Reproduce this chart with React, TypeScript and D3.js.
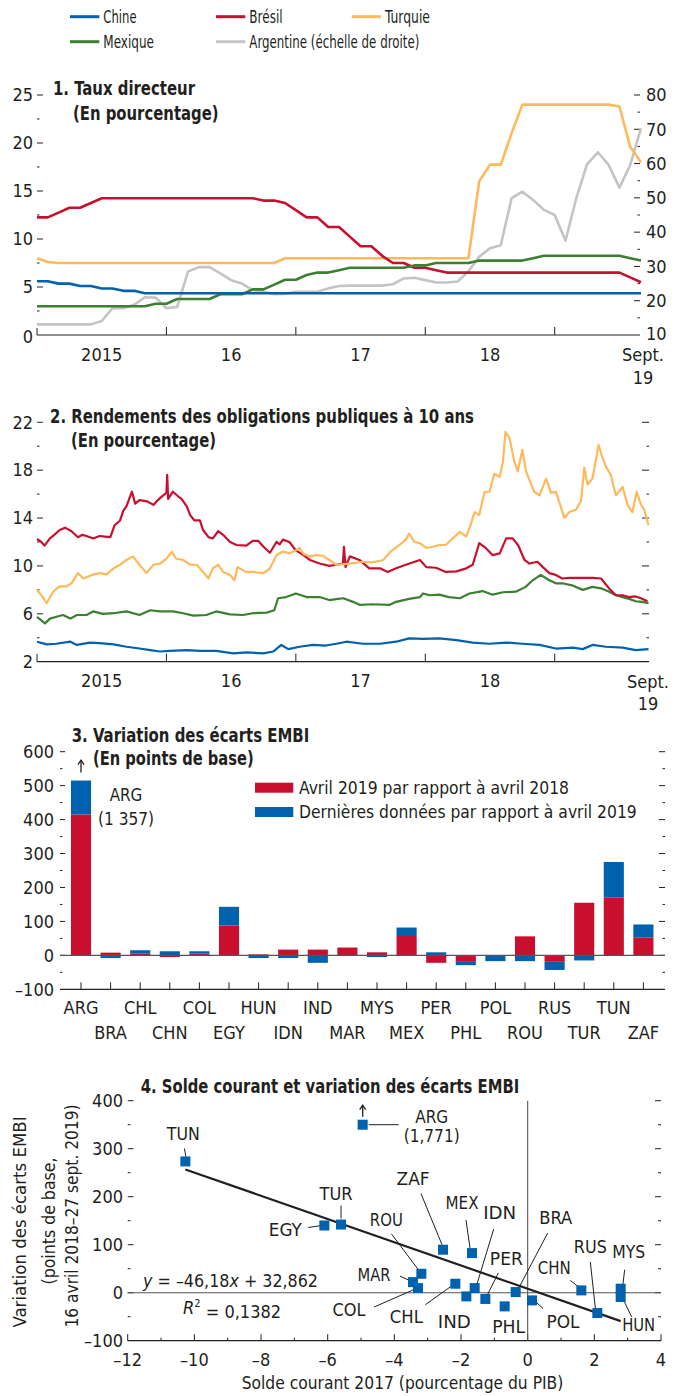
import React from "react";
import * as d3 from "d3";

const FONT = "'Liberation Sans Narrow','Arial Narrow','DejaVu Sans Condensed','Liberation Sans',sans-serif";
const INK = "#231F20";
const COL = { chn: "#0061AE", bra: "#C8102E", tur: "#FDB95C", mex: "#3B7F30", arg: "#C4C4C4" };

// ---------- Panel 1: policy rates, monthly (index 0 = Jan 2015 ... 56 = Sep 2019) ----------
const rateCHN = [
  5.6, 5.6, 5.35, 5.35, 5.1, 5.1, 4.85, 4.85, 4.6, 4.6,
  4.35, 4.35, 4.35, 4.35, 4.35, 4.35, 4.35, 4.35, 4.35, 4.35,
  4.35, 4.35, 4.35, 4.35, 4.35, 4.35, 4.35, 4.35, 4.35, 4.35,
  4.35, 4.35, 4.35, 4.35, 4.35, 4.35, 4.35, 4.35, 4.35, 4.35,
  4.35, 4.35, 4.35, 4.35, 4.35, 4.35, 4.35, 4.35, 4.35, 4.35,
  4.35, 4.35, 4.35, 4.35, 4.35, 4.35, 4.35,
];
const rateBRA = [
  12.25, 12.25, 12.75, 13.25, 13.25, 13.75, 14.25, 14.25, 14.25, 14.25,
  14.25, 14.25, 14.25, 14.25, 14.25, 14.25, 14.25, 14.25, 14.25, 14.25,
  14.25, 14.0, 14.0, 13.75, 13.0, 12.25, 12.25, 11.25, 11.25, 10.25,
  9.25, 9.25, 8.25, 7.5, 7.5, 7.0, 7.0, 6.75, 6.5, 6.5,
  6.5, 6.5, 6.5, 6.5, 6.5, 6.5, 6.5, 6.5, 6.5, 6.5,
  6.5, 6.5, 6.5, 6.5, 6.5, 6.0, 5.5,
];
const rateTUR = [
  8.0, 7.6, 7.5, 7.5, 7.5, 7.5, 7.5, 7.5, 7.5, 7.5,
  7.5, 7.5, 7.5, 7.5, 7.5, 7.5, 7.5, 7.5, 7.5, 7.5,
  7.5, 7.5, 7.5, 8.0, 8.0, 8.0, 8.0, 8.0, 8.0, 8.0,
  8.0, 8.0, 8.0, 8.0, 8.0, 8.0, 8.0, 8.0, 8.0, 8.0,
  8.0, 16.0, 17.75, 17.75, 21.0, 24.0, 24.0, 24.0, 24.0, 24.0,
  24.0, 24.0, 24.0, 24.0, 23.8, 19.6, 18.0,
];
const rateMEX = [
  3.0, 3.0, 3.0, 3.0, 3.0, 3.0, 3.0, 3.0, 3.0, 3.0,
  3.0, 3.25, 3.25, 3.75, 3.75, 3.75, 3.75, 4.25, 4.25, 4.25,
  4.75, 4.75, 5.25, 5.75, 5.75, 6.25, 6.5, 6.5, 6.75, 7.0,
  7.0, 7.0, 7.0, 7.0, 7.0, 7.25, 7.25, 7.5, 7.5, 7.5,
  7.5, 7.75, 7.75, 7.75, 7.75, 7.75, 8.0, 8.25, 8.25, 8.25,
  8.25, 8.25, 8.25, 8.25, 8.25, 8.0, 7.75,
];
// right-hand scale
const rateARG = [
  13.1, 13.1, 13.1, 13.1, 13.1, 13.1, 14.1, 17.8, 17.8, 18.8,
  21.0, 20.9, 17.8, 18.2, 28.5, 29.8, 29.8, 28.0, 26.0, 25.0,
  23.1, 22.6, 21.9, 22.0, 22.6, 22.6, 22.6, 23.6, 24.3, 24.4,
  24.4, 24.4, 24.4, 24.8, 26.5, 26.7, 26.0, 25.3, 25.3, 25.6,
  28.5, 32.8, 35.3, 36.2, 49.9, 51.8, 49.4, 46.5, 45.0, 37.5,
  49.9, 59.8, 63.3, 59.6, 53.0, 59.6, 70.3,
];

// ---------- Panel 2: 10-year yields, [months since Jan 2015, percent] ----------
const bondBRA: [number, number][] = [
  [0, 12.25], [0.4, 12.0], [0.7, 11.7], [1.2, 12.3], [1.6, 12.6], [2.1, 13.0], [2.6, 13.2], [3.2, 12.9], [3.8, 12.4], [4.2, 12.6], [4.6, 12.5],
  [5.2, 12.3], [5.8, 12.5], [6.3, 12.45], [6.8, 12.4], [7.2, 13.4], [7.7, 13.8], [8.0, 14.6], [8.3, 15.0], [8.8, 16.2], [9.1, 15.2],
  [9.5, 15.5], [10.2, 15.4], [10.8, 15.1], [11.2, 15.5], [11.7, 15.9], [12.0, 16.1], [12.07, 17.6], [12.16, 15.6],
  [12.6, 16.2], [13.1, 15.8], [13.4, 15.6], [13.9, 14.95], [14.2, 14.25], [14.6, 13.8], [15.1, 13.8], [15.4, 13.0],
  [15.9, 12.4], [16.3, 12.3], [16.8, 12.9], [17.25, 12.6], [17.9, 12.0], [18.5, 11.75], [19.4, 11.7], [20.0, 12.1],
  [20.5, 12.1], [21.0, 11.6], [21.6, 11.1], [22.2, 12.0], [22.5, 11.8], [22.8, 12.2], [23.4, 12.0], [24.0, 11.3], [24.7, 10.9],
  [25.3, 10.5], [26.2, 10.2], [27.1, 10.0], [27.75, 10.1], [28.36, 10.2], [28.46, 11.6], [28.61, 9.9], [29.0, 10.8],
  [29.9, 10.5], [30.8, 9.8], [31.8, 9.8], [32.5, 9.5], [33.3, 9.8], [34.2, 10.1], [35.5, 10.5], [36.1, 9.9],
  [37.0, 9.85], [37.9, 9.5], [38.9, 9.55], [39.8, 9.8], [40.4, 10.1], [41.0, 11.9], [41.6, 11.5], [42.25, 10.9],
  [42.9, 11.05], [43.5, 12.3], [44.1, 12.3], [44.6, 11.75], [45.2, 10.5], [45.65, 10.2], [46.4, 10.35], [46.9, 9.9],
  [47.5, 9.4], [48.1, 9.25], [48.7, 8.95], [49.35, 9.0], [50.6, 9.0], [51.5, 9.0], [52.3, 8.95], [53.06, 8.1],
  [53.67, 7.55], [54.3, 7.55], [54.9, 7.4], [55.5, 7.45], [56.0, 7.3], [56.6, 7.05],
];
const bondTUR: [number, number][] = [
  [0, 8.0], [0.6, 7.3], [0.9, 6.9], [1.5, 7.85], [2.1, 8.3], [2.75, 8.3], [3.2, 8.55], [3.8, 9.4],
  [4.3, 8.95], [5.1, 9.25], [5.8, 9.4], [6.45, 9.3], [7.1, 9.8], [7.7, 10.1], [8.3, 10.5], [8.9, 10.8],
  [9.5, 10.1], [10.15, 9.4], [10.8, 10.1], [11.4, 10.2], [12.0, 10.6], [12.5, 11.2], [12.9, 10.6], [13.55, 10.5],
  [14.2, 10.1], [14.8, 10.1], [15.4, 9.5], [15.9, 8.95], [16.3, 9.8], [16.8, 10.1], [17.25, 9.5], [17.9, 9.25],
  [18.3, 8.8], [18.6, 9.9], [19.4, 9.5], [20.0, 9.5], [21.0, 9.4], [21.6, 9.8], [22.2, 10.9], [22.8, 11.2],
  [23.4, 11.05], [24.0, 11.3], [24.35, 11.5], [24.7, 11.0], [25.3, 10.8], [25.9, 10.9], [26.5, 10.85], [27.1, 10.5],
  [27.75, 10.1], [29.0, 10.2], [30.2, 10.35], [31.1, 10.3], [32.1, 10.5], [32.8, 11.2], [33.6, 11.75], [34.2, 12.2],
  [34.5, 12.7], [35.0, 12.0], [35.5, 11.9], [36.1, 11.5], [36.7, 11.6], [37.3, 11.75], [37.9, 11.75], [38.55, 12.3],
  [39.2, 12.85], [39.8, 12.45], [40.25, 13.55], [40.56, 14.5], [41.0, 14.25], [41.5, 16.2], [41.95, 16.2], [42.4, 17.7],
  [42.9, 17.45], [43.2, 18.7], [43.43, 21.2], [43.8, 20.7], [44.26, 18.7], [44.57, 17.9], [45.0, 19.7], [45.34, 17.9],
  [45.65, 17.2], [46.1, 16.2], [46.6, 15.9], [47.2, 17.3], [47.65, 16.1], [48.1, 16.2], [48.4, 15.4], [48.9, 14.0],
  [49.35, 14.5], [49.97, 14.7], [50.43, 15.4], [50.74, 18.2], [51.05, 16.8], [51.5, 17.3], [52.07, 20.1], [52.44, 19.0],
  [52.75, 18.3], [53.2, 17.6], [53.67, 15.9], [54.3, 16.6], [54.75, 15.1], [55.2, 14.5], [55.6, 16.2], [56.0, 15.1],
  [56.3, 14.7], [56.7, 13.4],
];
const bondMEX: [number, number][] = [
  [0, 5.75], [0.74, 5.2], [1.2, 5.6], [1.8, 5.75], [2.4, 5.9], [3.1, 5.6], [3.7, 5.9], [4.6, 5.9],
  [5.2, 6.2], [6.1, 6.0], [7.1, 6.05], [8.3, 6.2], [9.5, 5.9], [10.5, 6.3], [11.4, 6.2], [12.6, 6.2],
  [13.55, 6.05], [14.5, 5.85], [15.7, 5.9], [16.6, 6.2], [17.9, 5.95], [19.1, 5.9], [20.0, 6.05], [21.3, 6.1],
  [22.0, 6.3], [22.35, 7.3], [23.1, 7.4], [24.0, 7.7], [25.0, 7.4], [26.2, 7.4], [27.1, 7.15], [27.9, 7.25],
  [28.4, 7.3], [29.3, 7.0], [29.9, 6.75], [31.1, 6.8], [32.7, 6.75], [33.3, 7.0], [34.5, 7.25], [35.5, 7.4],
  [35.8, 7.7], [36.4, 7.55], [37.3, 7.6], [38.2, 7.4], [39.2, 7.3], [40.1, 7.7], [41.3, 7.9], [42.25, 7.6],
  [43.2, 7.8], [44.4, 7.85], [45.3, 8.25], [45.96, 8.8], [46.7, 9.25], [47.5, 8.8], [48.1, 8.55], [48.7, 8.55],
  [49.7, 8.35], [50.6, 8.0], [51.5, 8.25], [52.4, 8.1], [53.06, 7.85], [53.67, 7.55], [54.3, 7.4], [54.9, 7.25],
  [55.5, 7.05], [56.1, 7.0], [56.7, 6.9],
];
const bondCHN: [number, number][] = [
  [0, 3.67], [0.9, 3.45], [1.8, 3.5], [3.1, 3.67], [3.7, 3.4], [4.9, 3.6], [5.8, 3.55], [7.1, 3.45],
  [8.3, 3.25], [9.5, 3.1], [10.5, 2.97], [11.4, 2.85], [12.3, 2.9], [13.9, 2.97], [15.1, 2.9], [16.6, 2.9],
  [18.2, 2.7], [19.4, 2.78], [21.0, 2.7], [21.9, 2.85], [22.65, 3.4], [23.3, 3.05], [24.35, 3.25], [25.6, 3.4],
  [26.8, 3.35], [27.75, 3.5], [28.7, 3.67], [30.2, 3.5], [31.8, 3.5], [33.3, 3.67], [34.5, 3.95], [35.8, 3.9],
  [37.3, 3.95], [38.9, 3.8], [40.4, 3.6], [41.95, 3.5], [43.5, 3.6], [45.0, 3.5], [46.6, 3.4], [48.1, 3.1],
  [49.7, 3.17], [50.6, 3.05], [51.5, 3.4], [52.75, 3.25], [54.3, 3.17], [55.5, 2.97], [56.7, 3.05],
];

const yearTicks = [12, 24, 36, 48];
const yearLabels: [number, string][] = [[6, "2015"], [18, "16"], [30, "17"], [42, "18"]];

// ---------- Panel 3: EMBI spread changes (basis points) ----------
const embiCodes = ["ARG", "BRA", "CHL", "CHN", "COL", "EGY", "HUN", "IDN", "IND", "MAR",
  "MYS", "MEX", "PER", "PHL", "POL", "ROU", "RUS", "TUR", "TUN", "ZAF"];
const embiApr = [415, 8, 5, -5, 5, 88, 3, 17, 17, 23, 9, 57, -22, -17, 0, 56, -19, 155, 170, 53];
const embiLatest = [942, -8, 10, 12, 7, 55, -8, -8, -22, 0, -5, 25, 9, -12, -17, -17, -24, -15, 105, 38];
const embiCap = 515; // ARG bar truncated on the chart

// ---------- Panel 4: current account vs spread change ----------
const scCodes = ["TUN", "EGY", "TUR", "ARG", "ZAF", "MEX", "ROU", "MAR", "COL", "CHL",
  "IDN", "IND", "PER", "PHL", "BRA", "POL", "CHN", "RUS", "MYS", "HUN"];
const scCA = [-10.27, -6.1, -5.6, -4.95, -2.54, -1.67, -3.19, -3.44, -3.29, -2.17,
  -1.59, -1.84, -1.27, -0.69, -0.36, 0.13, 1.61, 2.09, 2.79, 2.79];
const scSpread = [273.5, 140, 142, 1771, 89.6, 82.5, 39.5, 22, 9.6, 18.7,
  9.6, -7.7, -13, -28.5, 1.3, -16, 4.8, -42.4, 8.3, -9];
const scCap = 350; // ARG point truncated
const fitSlope = -24.2;
const fitIntercept = 8.3;

// label layout: [dx, dy] of label centre, optional leader [x1,y1,x2,y2] relative to point
const scLayout: Record<string, { l: [number, number]; k?: [number, number, number, number] }> = {
  TUN: { l: [-2, -28], k: [-1, -13, 0.5, -5] },
  EGY: { l: [-39, 4.5], k: [-16, 2, -3, 0] },
  TUR: { l: [-5, -31], k: [0, -19, 0, -6] },
  ARG: { l: [69, -8], k: [6, 0, 36, 0] },
  ZAF: { l: [-30, -71], k: [-22, -56, -1, -5] },
  MEX: { l: [-10, -50], k: [-6, -33, -2, -5] },
  ROU: { l: [-35, -54], k: [-30, -40, -3, -4] },
  MAR: { l: [-39, -7], k: [-13, -6, -2, -1] },
  COL: { l: [-69, 22], k: [-44, 19, -3, 1] },
  CHL: { l: [-49, 33], k: [-30, 21, -2, 1] },
  IDN: { l: [25, -75], k: [19, -59, 2, -3] },
  IND: { l: [-12, 25] },
  PER: { l: [21, -40], k: [13, -26, 1, -2] },
  PHL: { l: [4, 20] },
  BRA: { l: [40, -74], k: [32, -59, 2, -2] },
  POL: { l: [31, 21], k: [11, 8, 2, 0] },
  CHN: { l: [-27, -23], k: [-11, -10, -1, -2] },
  RUS: { l: [-7, -66], k: [-7, -51, -2, -5] },
  MYS: { l: [8, -37], k: [4, -19, 2, -2] },
  HUN: { l: [18, 28], k: [11, 20, 2, 1] },
};

function Txt(p: any) {
  const { x, y, size = 18, anchor = "start", weight = "normal", w, children, ...rest } = p;
  const fit = w ? { textLength: w, lengthAdjust: "spacingAndGlyphs" } : {};
  return (
    <text x={x} y={y} dy="0.35em" fontFamily={FONT} fontSize={size} textAnchor={anchor}
      fontWeight={weight} fill={INK} {...fit} {...rest}>{children}</text>
  );
}

export default function App() {
  // panel 1 & 2 shared time scale
  const xT = d3.scaleLinear().domain([0, 56]).range([37, 641]);
  const y1L = d3.scaleLinear().domain([0, 25]).range([335, 95]);
  const y1R = d3.scaleLinear().domain([10, 80]).range([335, 95]);
  const y2 = d3.scaleLinear().domain([2, 22]).range([661.7, 422.3]);

  const lineL = d3.line<number>().x((_, i) => xT(i)).y((d) => y1L(d));
  const lineR = d3.line<number>().x((_, i) => xT(i)).y((d) => y1R(d));
  const line2 = d3.line<[number, number]>().x((d) => xT(d[0])).y((d) => y2(d[1]));

  // panel 3
  const x3 = d3.scaleBand<string>().domain(embiCodes).range([66.2, 658.2]).paddingInner(0.32).paddingOuter(0.16);
  const y3 = d3.scaleLinear().domain([-100, 600]).range([989.3, 751.7]);
  const stackRows = embiCodes.map((c, i) => ({ code: c, apr: embiApr[i], latest: embiLatest[i] }));
  const stacked = d3.stack<any>().keys(["apr", "latest"]).offset(d3.stackOffsetDiverging)(stackRows);
  const barColors = [COL.bra, COL.chn];

  // panel 4
  const x4 = d3.scaleLinear().domain([-12, 4]).range([127.7, 661]);
  const y4 = d3.scaleLinear().domain([-100, 400]).range([1340.7, 1100.7]);
  const fitX = d3.extent(scCA) as [number, number];

  const legend = [
    { label: "Chine", c: COL.chn, x: 70, y: 16.7, w: 33.3 },
    { label: "Brésil", c: COL.bra, x: 216, y: 16.7, w: 33.3 },
    { label: "Turquie", c: COL.tur, x: 351.7, y: 16.7, w: 45 },
    { label: "Mexique", c: COL.mex, x: 70, y: 41.7, w: 50.7 },
    { label: "Argentine (échelle de droite)", c: COL.arg, x: 216, y: 41.7, w: 170 },
  ];

  const p1Left = d3.range(0, 26, 5);
  const p1LeftMinor = d3.range(2.5, 25, 5);
  const p1Right = d3.range(10, 81, 10);
  const p1RightMinor = d3.range(15, 80, 10);
  const p2Major = d3.range(2, 23, 4);
  const p2Minor = d3.range(4, 21, 4);
  const p3Major = d3.range(-100, 601, 100);
  const p3Minor = d3.range(-50, 600, 100);
  const p4Major = d3.range(-100, 401, 100);
  const p4Minor = d3.range(-50, 400, 100);
  const p4X = d3.range(-12, 5, 2);
  const p4XMinor = d3.range(-11, 4, 2);
  const dash = (v: number) => (v < 0 ? "\u2013" + Math.abs(v) : String(v));

  return (
    <svg width={682} height={1396} style={{ position: "absolute", left: 0, top: 0, background: "#fff" }}>
      <rect x={0} y={0} width={682} height={1396} fill="#fff" />
      {/* legend */}
      {legend.map((l) => (
        <g key={l.label}>
          <line x1={l.x} x2={l.x + 29.3} y1={l.y} y2={l.y} stroke={l.c} strokeWidth={3} />
          <Txt x={l.x + 33.3} y={l.y} size={17.5} w={l.w}>{l.label}</Txt>
        </g>
      ))}

      {/* ---------- Panel 1 ---------- */}
      <Txt x={53} y={88} size={19.5} weight="bold" w={142}>1. Taux directeur</Txt>
      <Txt x={73} y={112.7} size={19.5} weight="bold" w={145.5}>(En pourcentage)</Txt>
      {p1Left.map((v) => (
        <g key={"p1l" + v}>
          {v > 0 && <line x1={37} x2={43} y1={y1L(v)} y2={y1L(v)} stroke={INK} />}
          <Txt x={33} y={y1L(v) + (v === 0 ? 1.5 : 0)} anchor="end">{v}</Txt>
        </g>
      ))}
      {p1LeftMinor.map((v) => (
        <line key={"p1lm" + v} x1={37} x2={39.5} y1={y1L(v)} y2={y1L(v)} stroke={INK} />
      ))}
      {p1Right.map((v) => (
        <g key={"p1r" + v}>
          {v > 10 && <line x1={634} x2={640} y1={y1R(v)} y2={y1R(v)} stroke={INK} />}
          <Txt x={646} y={y1R(v) - (v === 10 ? 1.5 : 0)}>{v}</Txt>
        </g>
      ))}
      {p1RightMinor.map((v) => (
        <line key={"p1rm" + v} x1={637.5} x2={640} y1={y1R(v)} y2={y1R(v)} stroke={INK} />
      ))}
      <line x1={37} x2={640} y1={335} y2={335} stroke={INK} strokeWidth={1.2} />
      <line x1={37} x2={37} y1={335} y2={328} stroke={INK} />
      {yearTicks.map((t) => (
        <line key={"p1t" + t} x1={xT(t)} x2={xT(t)} y1={335} y2={327} stroke={INK} />
      ))}
      {yearLabels.map(([t, l]) => (
        <Txt key={"p1y" + l} x={xT(t)} y={355} anchor="middle">{l}</Txt>
      ))}
      <Txt x={643} y={355} anchor="middle">Sept.</Txt>
      <Txt x={643} y={377.5} anchor="middle">19</Txt>
      <g fill="none" strokeWidth={2.6} strokeLinejoin="round">
        <path d={lineR(rateARG) || ""} stroke={COL.arg} />
        <path d={lineL(rateTUR) || ""} stroke={COL.tur} />
        <path d={lineL(rateBRA) || ""} stroke={COL.bra} />
        <path d={lineL(rateMEX) || ""} stroke={COL.mex} />
        <path d={lineL(rateCHN) || ""} stroke={COL.chn} />
      </g>

      {/* ---------- Panel 2 ---------- */}
      <Txt x={50} y={416} size={19.5} weight="bold" w={424}>2. Rendements des obligations publiques à 10 ans</Txt>
      <Txt x={71} y={440} size={19.5} weight="bold" w={145}>(En pourcentage)</Txt>
      {p2Major.map((v) => (
        <g key={"p2l" + v}>
          {v > 2 && <line x1={37} x2={43} y1={y2(v)} y2={y2(v)} stroke={INK} />}
          {v > 2 && <line x1={642} x2={649} y1={y2(v)} y2={y2(v)} stroke={INK} />}
          <Txt x={33} y={y2(v)} anchor="end">{v}</Txt>
        </g>
      ))}
      {p2Minor.map((v) => (
        <g key={"p2m" + v}>
          <line x1={37} x2={39.5} y1={y2(v)} y2={y2(v)} stroke={INK} />
          <line x1={646.5} x2={649} y1={y2(v)} y2={y2(v)} stroke={INK} />
        </g>
      ))}
      <g fill="none" strokeWidth={2.2} strokeLinejoin="round">
        <path d={line2(bondCHN) || ""} stroke={COL.chn} />
        <path d={line2(bondMEX) || ""} stroke={COL.mex} />
        <path d={line2(bondBRA) || ""} stroke={COL.bra} />
        <path d={line2(bondTUR) || ""} stroke={COL.tur} />
      </g>
      <line x1={37} x2={649} y1={661.7} y2={661.7} stroke={INK} strokeWidth={1.2} />
      <line x1={37} x2={37} y1={661.7} y2={654} stroke={INK} />
      {yearTicks.map((t) => (
        <line key={"p2t" + t} x1={xT(t)} x2={xT(t)} y1={661.7} y2={653.7} stroke={INK} />
      ))}
      {yearLabels.map(([t, l]) => (
        <Txt key={"p2y" + l} x={xT(t)} y={681} anchor="middle">{l}</Txt>
      ))}
      <Txt x={648} y={681.7} anchor="middle">Sept.</Txt>
      <Txt x={648} y={704} anchor="middle">19</Txt>

      {/* ---------- Panel 3 ---------- */}
      <Txt x={71.7} y={735} size={19.5} weight="bold" w={237.6}>3. Variation des écarts EMBI</Txt>
      <Txt x={93} y={758} size={19.5} weight="bold" w={160.7}>(En points de base)</Txt>
      {p3Major.map((v) => (
        <g key={"p3l" + v}>
          {v > -100 && <line x1={60} x2={65} y1={y3(v)} y2={y3(v)} stroke={INK} />}
          {v > -100 && <line x1={659} x2={665} y1={y3(v)} y2={y3(v)} stroke={INK} />}
          <Txt x={54} y={y3(v)} anchor="end">{dash(v)}</Txt>
        </g>
      ))}
      {p3Minor.map((v) => (
        <g key={"p3m" + v}>
          <line x1={60} x2={62.5} y1={y3(v)} y2={y3(v)} stroke={INK} />
          <line x1={662.5} x2={665} y1={y3(v)} y2={y3(v)} stroke={INK} />
        </g>
      ))}
      {stacked.map((s, si) => (
        <g key={"st" + si} fill={barColors[si]}>
          {s.map((d: any) => {
            const lo = Math.min(d[0], d[1]);
            const hi = Math.min(Math.max(d[0], d[1]), embiCap);
            if (hi - lo <= 0) return null;
            return (
              <rect key={d.data.code} x={x3(d.data.code)} width={x3.bandwidth()}
                y={y3(hi)} height={y3(lo) - y3(hi)} />
            );
          })}
        </g>
      ))}
      <line x1={60} x2={665} y1={y3(0)} y2={y3(0)} stroke="#555" strokeWidth={1.2} />
      <line x1={60} x2={665} y1={y3(-100)} y2={y3(-100)} stroke={INK} strokeWidth={1.2} />
      {embiCodes.map((c, i) => {
        const cx = (x3(c) || 0) + x3.bandwidth() / 2;
        return (
          <g key={"p3x" + c}>
            <line x1={cx} x2={cx} y1={y3(-100)} y2={y3(-100) - 7} stroke={INK} />
            <Txt x={cx} y={i % 2 === 0 ? 1008 : 1033} anchor="middle">{c}</Txt>
          </g>
        );
      })}
      {/* ARG truncated-bar annotation */}
      <path d={`M${(x3("ARG") || 0) + x3.bandwidth() / 2},${y3(embiCap) - 8} v-12`} stroke={INK} strokeWidth={1.3} />
      <path d={`M${(x3("ARG") || 0) + x3.bandwidth() / 2 - 3},${y3(embiCap) - 16} l3,-4.5 l3,4.5`} stroke={INK} strokeWidth={1.3} fill="none" />
      <Txt x={126} y={795} anchor="middle" w={32.7}>ARG</Txt>
      <Txt x={126} y={819} anchor="middle" w={56}>(1 357)</Txt>
      {/* legend */}
      <rect x={255} y={782.7} width={38.3} height={10} fill={COL.bra} />
      <Txt x={299} y={787.7} w={270}>Avril 2019 par rapport à avril 2018</Txt>
      <rect x={255} y={807} width={38.3} height={10} fill={COL.chn} />
      <Txt x={299} y={812} w={337.7}>Dernières données par rapport à avril 2019</Txt>

      {/* ---------- Panel 4 ---------- */}
      <Txt x={140.7} y={1086} size={19.5} weight="bold" w={378.6}>4. Solde courant et variation des écarts EMBI</Txt>
      {p4Major.map((v) => (
        <g key={"p4l" + v}>
          {v > -100 && <line x1={127.7} x2={133.5} y1={y4(v)} y2={y4(v)} stroke={INK} />}
          {v > -100 && <line x1={655} x2={661} y1={y4(v)} y2={y4(v)} stroke={INK} />}
          <Txt x={123} y={y4(v)} anchor="end">{dash(v)}</Txt>
        </g>
      ))}
      {p4Minor.map((v) => (
        <g key={"p4m" + v}>
          <line x1={127.7} x2={130.5} y1={y4(v)} y2={y4(v)} stroke={INK} />
          <line x1={658} x2={661} y1={y4(v)} y2={y4(v)} stroke={INK} />
        </g>
      ))}
      {p4X.map((v) => (
        <g key={"p4x" + v}>
          <line x1={x4(v)} x2={x4(v)} y1={y4(-100)} y2={y4(-100) - 6.5} stroke={INK} />
          <Txt x={x4(v)} y={1360} anchor="middle">{dash(v)}</Txt>
        </g>
      ))}
      {p4XMinor.map((v) => (
        <line key={"p4xm" + v} x1={x4(v)} x2={x4(v)} y1={y4(-100)} y2={y4(-100) - 3} stroke={INK} />
      ))}
      <line x1={127.7} x2={661} y1={y4(-100)} y2={y4(-100)} stroke={INK} strokeWidth={1.2} />
      <line x1={127.7} x2={661} y1={y4(0)} y2={y4(0)} stroke="#555" strokeWidth={1.1} />
      <line x1={x4(0)} x2={x4(0)} y1={y4(400)} y2={y4(-100)} stroke="#555" strokeWidth={1.1} />
      <line x1={x4(fitX[0])} x2={x4(fitX[1])} y1={y4(fitSlope * fitX[0] + fitIntercept)}
        y2={y4(fitSlope * fitX[1] + fitIntercept)} stroke={INK} strokeWidth={2.2} />
      {scCodes.map((c, i) => {
        const px = x4(scCA[i]);
        const py = y4(Math.min(scSpread[i], scCap));
        const L = scLayout[c];
        return (
          <g key={"sc" + c}>
            {L.k && (
              <line x1={px + L.k[0]} y1={py + L.k[1]} x2={px + L.k[2]} y2={py + L.k[3]} stroke={INK} strokeWidth={1} />
            )}
            <rect x={px - 5} y={py - 5} width={10} height={10} fill={COL.chn} />
            <Txt x={px + L.l[0]} y={py + L.l[1]} anchor="middle" w={33}>{c}</Txt>
            {c === "ARG" && (
              <>
                <Txt x={px + L.l[0]} y={py + L.l[1] + 19} anchor="middle" w={56}>(1,771)</Txt>
                <path d={`M${px},${py - 8} v-11`} stroke={INK} strokeWidth={1.3} />
                <path d={`M${px - 3},${py - 15} l3,-4.5 l3,4.5`} stroke={INK} strokeWidth={1.3} fill="none" />
              </>
            )}
          </g>
        );
      })}
      <text x={143} y={1281} dy="0.35em" fontFamily={FONT} fontSize={18} fill={INK}
        textLength={175} lengthAdjust="spacingAndGlyphs">
        <tspan fontStyle="italic">y</tspan> = –46,18<tspan fontStyle="italic">x</tspan> + 32,862
      </text>
      <text x={183} y={1307.7} dy="0.35em" fontFamily={FONT} fontSize={18} fill={INK}>
        <tspan fontStyle="italic">R</tspan><tspan fontSize={11} dy="-0.6em">2</tspan><tspan dy="0.6em"> = 0,1382</tspan>
      </text>
      <g transform="translate(0,1220) rotate(-90)">
        <Txt x={-2} y={20} anchor="middle" w={211}>Variation des écarts EMBI</Txt>
        <Txt x={-1} y={49} anchor="middle" w={127}>(points de base,</Txt>
        <Txt x={4} y={72} anchor="middle" w={223}>16 avril 2018–27 sept. 2019)</Txt>
      </g>
      <Txt x={402.5} y={1383} anchor="middle" w={321.6}>Solde courant 2017 (pourcentage du PIB)</Txt>
    </svg>
  );
}
